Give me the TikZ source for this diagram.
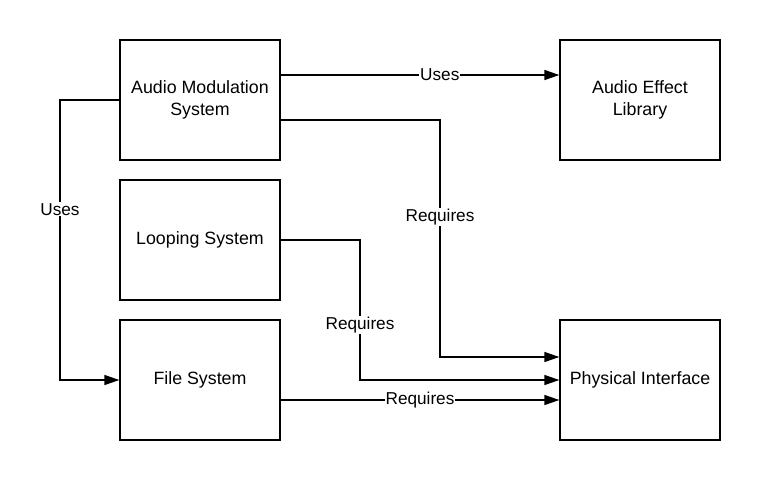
\documentclass[tikz,border=0pt]{standalone}
\usepackage{fontspec}
\setmainfont{Liberation Sans}
\usetikzlibrary{arrows.meta}
\begin{document}
\begin{tikzpicture}[x=1pt,y=-1pt,
  box/.style={draw,line width=1.3pt,minimum width=160pt,minimum height=120pt,align=center,inner sep=0pt,font=\fontsize{17.8}{21.5}\selectfont},
  conn/.style={line width=1.3pt,-{Triangle[length=15pt,width=10pt]}},
  lbl/.style={fill=white,inner sep=1pt,font=\fontsize{17.2}{20}\selectfont}]
\useasboundingbox (0,0) rectangle (760,480);
\node[box] (ams) at (200,100) {Audio Modulation\\System};
\node[box] (ael) at (640,100) {Audio Effect\\Library};
\node[box] (ls) at (200,240) {Looping System};
\node[box] (fs) at (200,380) {File System};
\node[box] (pi) at (640,380) {Physical Interface};
\draw[conn] (ams.east |- 0,75) -- node[lbl,pos=0.571]{Uses} (ael.west |- 0,75);
\draw[conn] (ams.west) -- (60,100) -- node[lbl,pos=0.39]{Uses} (60,380) -- (fs.west);
\draw[conn] (ams.east |- 0,120) -- (440,120) -- node[lbl,pos=0.41]{Requires} (440,357) -- (pi.west |- 0,357);
\draw[conn] (ls.east) -- (360,240) -- node[lbl,pos=0.605]{Requires} (360,380) -- (pi.west);
\draw[conn] (fs.east |- 0,400) -- node[lbl,pos=0.5]{Requires} (pi.west |- 0,400);
\end{tikzpicture}
\end{document}
